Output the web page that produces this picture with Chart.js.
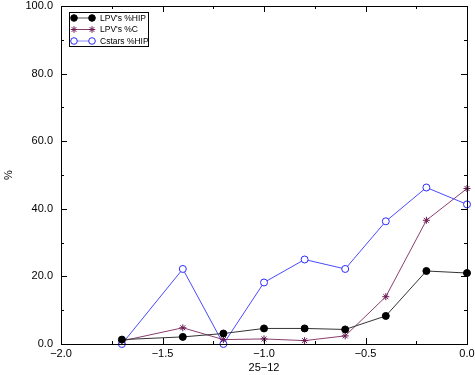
<!DOCTYPE html>
<html>
<head>
<meta charset="utf-8">
<script src="https://cdn.jsdelivr.net/npm/chart.js@4/dist/chart.umd.min.js"></script>
<style>
  html, body { margin: 0; padding: 0; background: #fff; }
  #wrap { width: 475px; height: 375px; }
</style>
</head>
<body>
<div id="wrap"><canvas id="chart" width="475" height="375"></canvas></div>
<script>
// bin centres on the x axis
const xValues = [-1.7, -1.4, -1.2, -1.0, -0.8, -0.6, -0.4, -0.2, 0.0];

const lpvHip = [1.3, 2.1, 3.1, 4.6, 4.6, 4.3, 8.3, 21.6, 21.0];
const lpvC = [0.9, 4.8, 1.3, 1.5, 1.0, 2.4, 14.0, 36.6, 46.0];
const cstarsHip = [0.0, 22.2, 0.0, 18.2, 25.0, 22.2, 36.3, 46.3, 41.3];

const seriesLabels = ["LPV's %HIP", "LPV's %C", "Cstars %HIP"];
const xTitle = '25\u221212';
const yTitle = '%';

function toPoints(ys) {
    return xValues.map((x, i) => ({ x: x, y: ys[i] }));
}

const FONT = '"Liberation Sans", Arial, Helvetica, sans-serif';

// frame, inward tick marks and the boxed legend
const framePlugin = {
    id: 'frame',
    afterDraw(chart) {
        const ctx = chart.ctx;
        const a = chart.chartArea;
        const xs = chart.scales.x;
        const ys = chart.scales.y;
        ctx.save();
        ctx.strokeStyle = '#000';
        ctx.lineWidth = 1;
        ctx.strokeRect(Math.round(a.left) + 0.5, Math.round(a.top) + 0.5,
            Math.round(a.right - a.left), Math.round(a.bottom - a.top));

        ctx.beginPath();
        for (let v = -2.0; v <= 0.001; v += 0.25) {
            const px = Math.round(xs.getPixelForValue(v)) + 0.5;
            const len = Math.abs(v * 2 - Math.round(v * 2)) < 0.01 ? 6 : 3;
            ctx.moveTo(px, a.bottom);
            ctx.lineTo(px, a.bottom - len);
            ctx.moveTo(px, a.top);
            ctx.lineTo(px, a.top + len);
        }
        for (let v = 0; v <= 100; v += 10) {
            const py = Math.round(ys.getPixelForValue(v)) + 0.5;
            const len = v % 20 === 0 ? 6 : 3;
            ctx.moveTo(a.left, py);
            ctx.lineTo(a.left + len, py);
            ctx.moveTo(a.right, py);
            ctx.lineTo(a.right - len, py);
        }
        ctx.stroke();

        // legend
        const lx = 69, ly = 12, lw = 79, lh = 34;
        ctx.fillStyle = '#fff';
        ctx.fillRect(lx, ly, lw, lh);
        ctx.strokeStyle = '#000';
        ctx.strokeRect(lx + 0.5, ly + 0.5, lw, lh);
        ctx.font = '8.5px ' + FONT;
        ctx.textBaseline = 'middle';
        chart.data.datasets.forEach((ds, i) => {
            const y = ly + 6 + i * 11.5;
            const x1 = lx + 5, x2 = lx + 23;
            ctx.strokeStyle = ds.legendLine;
            ctx.lineWidth = 1;
            ctx.beginPath();
            ctx.moveTo(x1, y);
            ctx.lineTo(x2, y);
            ctx.stroke();
            [x1, x2].forEach(px => {
                ctx.fillStyle = ds.pointBackgroundColor;
                ctx.strokeStyle = ds.pointBorderColor;
                ctx.lineWidth = 1;
                Chart.helpers.drawPoint(ctx, {
                    pointStyle: ds.pointStyle,
                    radius: 3.3,
                    borderWidth: 1
                }, px, y);
            });
            ctx.fillStyle = '#000';
            ctx.textAlign = 'left';
            ctx.fillText(ds.label, x2 + 8, y + 0.5);
        });
        ctx.restore();
    }
};

new Chart(document.getElementById('chart'), {
    type: 'scatter',
    data: {
        datasets: [
            {
                label: seriesLabels[0],
                data: toPoints(lpvHip),
                showLine: true,
                borderColor: '#333333',
                legendLine: '#555555',
                borderWidth: 1,
                pointStyle: 'circle',
                pointRadius: 3.5,
                pointBackgroundColor: '#000',
                pointBorderColor: '#000',
                pointBorderWidth: 1
            },
            {
                label: seriesLabels[1],
                data: toPoints(lpvC),
                showLine: true,
                borderColor: '#8a3e6e',
                legendLine: '#8a3e6e',
                borderWidth: 1,
                pointStyle: 'star',
                pointRadius: 3.5,
                pointBackgroundColor: '#6a1850',
                pointBorderColor: '#6a1850',
                pointBorderWidth: 1
            },
            {
                label: seriesLabels[2],
                data: toPoints(cstarsHip),
                showLine: true,
                borderColor: '#4a4aff',
                legendLine: '#8a8aff',
                borderWidth: 1,
                pointStyle: 'circle',
                pointRadius: 3.5,
                pointBackgroundColor: '#fff',
                pointBorderColor: '#2a2aff',
                pointBorderWidth: 1
            }
        ]
    },
    options: {
        responsive: false,
        animation: false,
        clip: false,
        layout: { padding: { left: 2, top: 6, right: 8, bottom: 0 } },
        plugins: {
            legend: { display: false },
            tooltip: { enabled: false }
        },
        scales: {
            x: {
                type: 'linear',
                min: -2.0,
                max: 0.0,
                grid: { display: false, drawTicks: false },
                border: { display: false },
                ticks: {
                    stepSize: 0.5,
                    padding: 3,
                    color: '#000',
                    font: { family: FONT, size: 11 },
                    maxRotation: 0,
                    callback: v => (v < 0 ? '\u2212' + Math.abs(v).toFixed(1) : v.toFixed(1))
                },
                title: {
                    display: true,
                    text: xTitle,
                    color: '#000',
                    font: { family: FONT, size: 11 },
                    padding: { top: 1, bottom: 0 }
                },
                afterFit(scale) {
                    scale.height = 31;
                    scale.paddingLeft = 0;
                    scale.paddingRight = 0;
                }
            },
            y: {
                min: 0,
                max: 100,
                grid: { display: false, drawTicks: false },
                border: { display: false },
                ticks: {
                    stepSize: 20,
                    padding: 8,
                    color: '#000',
                    font: { family: FONT, size: 11 },
                    callback: v => v.toFixed(1)
                },
                title: {
                    display: true,
                    text: yTitle,
                    color: '#000',
                    font: { family: FONT, size: 11 },
                    padding: 0
                },
                afterFit(scale) {
                    scale.width = 59;
                    scale.paddingTop = 0;
                }
            }
        }
    },
    plugins: [framePlugin]
});
</script>
</body>
</html>
